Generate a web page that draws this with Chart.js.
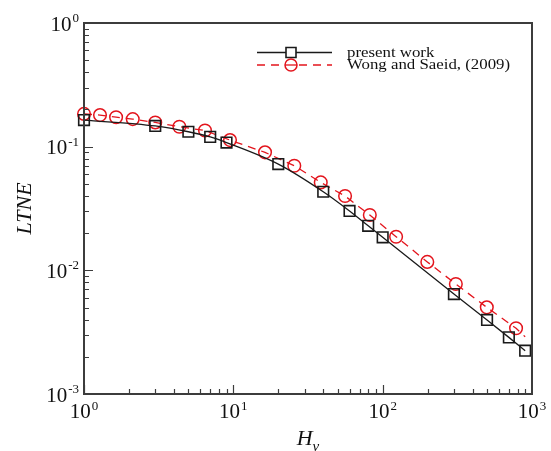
<!DOCTYPE html>
<html>
<head>
<meta charset="utf-8">
<script src="https://cdn.jsdelivr.net/npm/chart.js@4"></script>
<style>
  html, body { margin: 0; padding: 0; background: #fff; }
  canvas { display: block; }
</style>
</head>
<body>
<canvas id="chart" width="551" height="451"></canvas>
<script>
// data
const presentX = [1, 3, 5, 7, 9, 20, 40, 60, 80, 100, 300, 500, 700, 900];
const presentY = [0.164, 0.147, 0.132, 0.120, 0.108, 0.0723, 0.0432, 0.0302, 0.0229, 0.0185, 0.00643, 0.00397, 0.00287, 0.00224];

const wongX = [1, 1.28, 1.64, 2.12, 3, 4.35, 6.46, 9.5, 16.3, 25.6, 38.5, 56, 82, 123, 199, 309, 498, 782, 900];
const wongY = [0.184, 0.180, 0.173, 0.167, 0.157, 0.145, 0.135, 0.113, 0.090, 0.0701, 0.0514, 0.0399, 0.0280, 0.0187, 0.0117, 0.00775, 0.00502, 0.0034, 0.0029];

const seriesLabels = ["present work", "Wong and Saeid, (2009)"];

const xTickValues = [1, 10, 100, 1000];
const xTickExps = ["0", "1", "2", "3"];
const yTickValues = [1, 0.1, 0.01, 0.001];
const yTickExps = ["0", "-1", "-2", "-3"];

const xTitle = "H";
const xTitleSub = "v";
const yTitle = "LTNE";

const SERIF = '"Liberation Serif", "Times New Roman", serif';
const FRAME = "#3c3c3c";
const RED = "#e3141c";

function toPoints(xs, ys) {
  return xs.map((x, i) => ({ x: x, y: ys[i] }));
}

// frame, inward ticks, labels, titles and legend
const decorations = {
  id: "decorations",
  afterDraw(chart) {
    const ctx = chart.ctx;
    const area = chart.chartArea;
    const xs = chart.scales.x;
    const ys = chart.scales.y;
    ctx.save();

    // minor + major ticks on bottom and left
    ctx.strokeStyle = FRAME;
    ctx.lineWidth = 1.2;
    ctx.beginPath();
    for (let d = 1; d < 1000; d *= 10) {
      for (let m = 1; m <= 9; m++) {
        const px = Math.round(xs.getPixelForValue(d * m)) + 0.5;
        const len = m === 1 ? 9 : 5;
        ctx.moveTo(px, area.bottom);
        ctx.lineTo(px, area.bottom - len);
      }
    }
    for (let d = 0.001; d < 1; d *= 10) {
      for (let m = 1; m <= 9; m++) {
        const py = Math.round(ys.getPixelForValue(d * m)) + 0.5;
        const len = m === 1 ? 9 : 5;
        ctx.moveTo(area.left, py);
        ctx.lineTo(area.left + len, py);
      }
    }
    ctx.stroke();

    // box
    ctx.lineWidth = 2;
    ctx.strokeRect(area.left, area.top, area.right - area.left, area.bottom - area.top);

    // tick labels with superscripts
    ctx.fillStyle = "#111";
    ctx.textBaseline = "alphabetic";
    ctx.textAlign = "left";
    const big = "21px " + SERIF;
    const small = "13px " + SERIF;
    function labelWidth(exp) {
      ctx.font = big;
      const w1 = ctx.measureText("10").width;
      ctx.font = small;
      return [w1, ctx.measureText(exp).width];
    }
    xTickValues.forEach((v, i) => {
      const px = xs.getPixelForValue(v);
      const [w1, w2] = labelWidth(xTickExps[i]);
      const left = px - (w1 + w2 + 1) / 2;
      ctx.font = big;
      ctx.fillText("10", left, 418);
      ctx.font = small;
      ctx.fillText(xTickExps[i], left + w1 + 1, 410);
    });
    yTickValues.forEach((v, i) => {
      const py = ys.getPixelForValue(v);
      const [w1, w2] = labelWidth(yTickExps[i]);
      const left = area.left - 5 - (w1 + w2 + 1);
      ctx.font = big;
      ctx.fillText("10", left, py + 7.5);
      ctx.font = small;
      ctx.fillText(yTickExps[i], left + w1 + 1, py - 1);
    });

    // axis titles
    ctx.font = "italic 22px " + SERIF;
    const hw = ctx.measureText(xTitle).width;
    ctx.font = "italic 15px " + SERIF;
    const vw = ctx.measureText(xTitleSub).width;
    const cx = (area.left + area.right) / 2;
    const hx = cx - (hw + vw) / 2;
    ctx.font = "italic 22px " + SERIF;
    ctx.fillText(xTitle, hx, 445);
    ctx.font = "italic 15px " + SERIF;
    ctx.fillText(xTitleSub, hx + hw, 451);

    ctx.save();
    ctx.translate(31, (area.top + area.bottom) / 2);
    ctx.rotate(-Math.PI / 2);
    ctx.font = "italic 22px " + SERIF;
    ctx.textAlign = "center";
    ctx.fillText(yTitle, 0, 0);
    ctx.restore();

    // legend
    const lx0 = 257, lx1 = 332, mx = 291;
    const rows = [52.5, 65];
    chart.data.datasets.forEach((ds, i) => {
      const y = rows[i];
      ctx.strokeStyle = ds.borderColor;
      ctx.lineWidth = ds.borderWidth;
      ctx.setLineDash(ds.borderDash || []);
      ctx.beginPath();
      ctx.moveTo(lx0, y);
      ctx.lineTo(lx1, y);
      ctx.stroke();
      ctx.setLineDash([]);
      ctx.lineWidth = ds.pointBorderWidth;
      ctx.beginPath();
      if (ds.pointStyle === "rect") {
        ctx.rect(mx - 5, y - 5, 10, 10);
      } else {
        ctx.arc(mx, y, 6, 0, Math.PI * 2);
      }
      ctx.fillStyle = "#fff";
      ctx.fill();
      ctx.stroke();
      if (ds.pointStyle !== "rect") {
        ctx.beginPath();
        ctx.moveTo(mx - 6, y);
        ctx.lineTo(mx + 6, y);
        ctx.lineWidth = ds.borderWidth;
        ctx.stroke();
      }
      // the original legend text is set wide and short
      ctx.save();
      ctx.translate(347, y + 4);
      ctx.scale(1.16, 1);
      ctx.fillStyle = "#111";
      ctx.font = "14.5px " + SERIF;
      ctx.textAlign = "left";
      ctx.fillText(seriesLabels[i], 0, 0);
      ctx.restore();
    });

    ctx.restore();
  }
};

new Chart(document.getElementById("chart"), {
  type: "line",
  data: {
    datasets: [
      {
        label: seriesLabels[0],
        data: toPoints(presentX, presentY),
        borderColor: "#1a1a1a",
        borderWidth: 1.3,
        cubicInterpolationMode: "monotone",
        pointStyle: "rect",
        pointRadius: 7.5,
        pointBorderWidth: 1.6,
        pointBorderColor: "#1a1a1a",
        pointBackgroundColor: "rgba(0,0,0,0)",
        clip: false
      },
      {
        label: seriesLabels[1],
        data: toPoints(wongX, wongY),
        borderColor: RED,
        borderWidth: 1.3,
        borderDash: [8, 6],
        tension: 0,
        pointStyle: "circle",
        pointRadius: wongX.map((x, i) => (i === wongX.length - 1 ? 0 : 6.3)),
        pointBorderWidth: 1.5,
        pointBorderColor: RED,
        pointBackgroundColor: "rgba(0,0,0,0)",
        clip: false
      }
    ]
  },
  options: {
    responsive: false,
    animation: false,
    devicePixelRatio: 1,
    layout: { padding: { left: 84, right: 19, top: 23, bottom: 57 } },
    plugins: {
      legend: { display: false },
      tooltip: { enabled: false }
    },
    scales: {
      x: { type: "logarithmic", min: 1, max: 1000, display: false },
      y: { type: "logarithmic", min: 0.001, max: 1, display: false }
    }
  },
  plugins: [decorations]
});
</script>
</body>
</html>
